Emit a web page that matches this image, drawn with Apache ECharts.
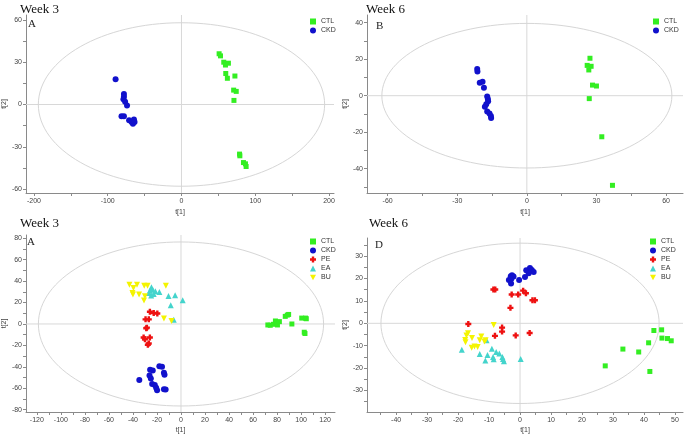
<!DOCTYPE html>
<html>
<head>
<meta charset="utf-8">
<title>PCA score plots</title>
<script src="https://cdn.jsdelivr.net/npm/echarts@6/dist/echarts.min.js"></script>
<style>
  html, body { margin: 0; padding: 0; background: #fff; }
  #chart { width: 685px; height: 435px; }
</style>
</head>
<body>
<div id="chart"></div>
<script>
// ---- data: score points [t1, t2] per group ----
// Week 3, CTL vs CKD (panel A top)
const w3CTL = [[51,36],[52.9,34.5],[57.3,30],[59.6,28],[63.6,29.3],[60,22],[62.2,18.6],[72.4,20.2],
  [70.7,10.2],[74.2,9.3],[71.1,2.9],[78.7,-35.2],[79.1,-36.4],[84,-41.2],[86.7,-42.1],[87.6,-44]]
const w3CKD = [[-89.3,17.9],[-78,7.4],[-78,5.5],[-78.7,3.8],[-76.4,1.9],[-73.8,-0.7],[-81.3,-8.3],[-78,-8.3],
  [-71,-11.2],[-67.6,-12.4],[-64.4,-10.7],[-65.8,-13.6],[-63.6,-12.4]]

// Week 6, CTL vs CKD (panel B)
const w6CTL = [[27.2,20.5],[26,16.6],[27.7,16.1],[26.7,14.1],[28.3,5.8],[30,5.3],[26.9,-1.6],[32.3,-22.5],[36.9,-49.1]]
const w6CKD = [[-21.4,14.6],[-21.3,13.2],[-20.3,7.1],[-19.1,7.7],[-18.5,4.4],[-17.1,-0.5],[-16.8,-1.8],[-16.7,-3.1],
  [-17.5,-4.7],[-18.1,-6],[-17.1,-8.6],[-16.1,-9.7],[-15.5,-11.1],[-15.4,-12.2]]

// Week 3, five groups (panel A bottom)
const w3gCTL = [[72.3,-0.9],[74.3,-1.2],[77,-0.3],[78.6,2.8],[80.3,-0.9],[81.9,2.2],[86.8,7.1],[88.5,8.3],[89.6,8.9],
  [92.3,0],[100.5,5.5],[103.7,5.5],[102.6,-7.7],[103.2,-8.9],[104.3,4.9]]
const w3gCKD = [[-34.7,-52.3],[-25.7,-42.8],[-23.5,-43.4],[-26.2,-48],[-25.1,-50.8],[-24,-56],[-21.8,-56.9],[-20.7,-59.4],
  [-19.9,-61.8],[-18,-39.4],[-15.8,-40],[-14.2,-45.5],[-13.7,-47.4],[-14.2,-60.9],[-12.8,-61.2]]
const w3gPE = [[-25.9,11.4],[-22.7,10.2],[-19.7,9.8],[-29.5,4.3],[-26.8,4.3],[-28.4,-3.4],[-28.9,-4],[-31.1,-12.6],
  [-30,-14.2],[-25.9,-12.6],[-26.8,-18.2],[-27.6,-19.4]]
const w3gEA = [[-24.6,34.2],[-25.9,31.1],[-23.5,32],[-26.8,28.9],[-22.7,28],[-24.8,26.5],[-21.3,30.5],[-18,29.8],
  [-10.4,26.2],[-4.9,26.8],[-8.5,17.5],[1.4,22.2],[-6,4]]
const w3gBU = [[-42.9,36.6],[-36.6,36.6],[-39.6,33.5],[-40.4,28.9],[-34.9,27.4],[-40,27.4],[-30.6,35.7],[-27.8,35.7],
  [-30,25.8],[-30.8,21.8],[-12.6,35.7],[-14.2,5.2],[-7.9,2.8]]

// Week 6, five groups (panel D)
const w6gCTL = [[27.5,-19],[33.2,-11.5],[38.3,-12.8],[41.5,-8.7],[41.9,-21.5],[43.2,-3.2],[45.7,-2.9],[45.8,-6.6],[47.6,-6.8],[48.8,-7.8]]
const w6gCKD = [[-3.6,19.4],[-3,21],[-2.6,21.5],[-2.1,20.9],[-2.8,19.9],[-2.9,17.8],[-0.3,19.3],[1.6,20.7],[2,23.7],
  [3.2,24.7],[3.8,23.8],[4.4,22.9],[2.8,22.4]]
const w6gPE = [[-8.6,15.1],[-8,15.1],[-2.7,12.9],[-0.6,12.9],[1,14.6],[1.9,13.4],[4,10.3],[4.8,10.3],[-3.1,6.9],
  [-16.7,-0.3],[-5.8,-1.9],[-5.8,-3.7],[-1.4,-5.4],[-8.1,-5.6],[3.1,-4.3]]
const w6gEA = [[-18.8,-11.8],[-13,-13.7],[-11.2,-16.6],[-10.5,-14.1],[-10.8,-7.6],[-9.1,-11.3],[-8.7,-15],[-8.5,-16],
  [-7.7,-12.8],[-6.7,-13.5],[-5.7,-15],[-5.5,-15.9],[-5.2,-16.9],[0.2,-15.9]]
const w6gBU = [[-8.5,-0.7],[-17.3,-5.4],[-16.8,-4.4],[-17.7,-7.4],[-17.6,-8.4],[-15.5,-6.5],[-15.6,-10.9],[-14.7,-10.3],
  [-13.7,-10.6],[-13,-7.6],[-12.5,-5.9],[-11.5,-8.1],[-11.1,-7.6]]

// Hotelling T2 ellipse half-axes [t1, t2] per panel
const ellipseRadii = [[194, 58], [62.5, 39.6], [118.7, 76.5], [44.9, 35.8]]

// axis ranges and tick labels per panel
const xRanges = [[-210.7, 206.7], [-68.9, 67.3], [-129, 128.2], [-49.4, 52.6]]
const yRanges = [[-62.8, 63.5], [-53.3, 44.2], [-82.1, 83], [-39.6, 38.1]]
const xLabels = [[-200, -100, 0, 100, 200], [-60, -30, 0, 30, 60],
  [-120, -100, -80, -60, -40, -20, 0, 20, 40, 60, 80, 100, 120], [-40, -30, -20, -10, 0, 10, 20, 30, 40, 50]]
const yLabels = [[-60, -30, 0, 30, 60], [-40, -20, 0, 20, 40],
  [-80, -60, -40, -20, 0, 20, 40, 60, 80], [-30, -20, -10, 0, 10, 20, 30]]
const xTickStep = [50, 15, 10, 5]
const yTickStep = [15, 10, 10, 5]

const weekTitles = ['Week 3', 'Week 6', 'Week 3', 'Week 6']
const panelLetters = ['A', 'B', 'A', 'D']

const COLORS = { CTL: '#33ee22', CKD: '#1111cc', PE: '#ee1111', EA: '#44d4cc', BU: '#f4f400' }
const SYMBOLS = {
  CTL: 'rect',
  CKD: 'circle',
  PE: 'path://M3,0h4v3h3v4h-3v3h-4v-3h-3v-4h3z',
  EA: 'triangle',
  BU: 'path://M0,0L10,0L5,9Z',
}
const SIZES = { CTL: 5, CKD: 6, PE: 6, EA: 6, BU: 6 }

// layout of the four grids (px)
const grids = [
  { left: 21, right: 351, top: 15, bottom: 242 },
  { left: 367, right: 2, top: 15, bottom: 242 },
  { left: 21, right: 350, top: 235, bottom: 21 },
  { left: 367, right: 2, top: 238, bottom: 21 },
]

function ticksFrom(range, step) {
  const out = []
  for (let v = Math.ceil(range[0] / step) * step; v <= range[1]; v += step) out.push(v)
  return out
}

const SANS = 'Liberation Sans, Arial, sans-serif'
const SERIF = 'Liberation Serif, Times New Roman, serif'
const labelStyle = { fontSize: 7, color: '#444', fontFamily: SANS, margin: 5 }
const axisLineStyle = { lineStyle: { color: '#8a8a8a', width: 1 } }

function makeX(i) {
  return {
    type: 'value', gridIndex: i, min: xRanges[i][0], max: xRanges[i][1],
    name: 't[1]', nameLocation: 'middle', nameGap: i < 2 ? 16 : 15,
    nameTextStyle: { fontSize: 7, color: '#444', fontFamily: SANS },
    axisLine: { show: true, onZero: false, ...axisLineStyle },
    axisTick: { show: true, length: 3, customValues: ticksFrom(xRanges[i], xTickStep[i]), ...axisLineStyle },
    axisLabel: { ...labelStyle, customValues: xLabels[i] },
    splitLine: { show: false },
  }
}

function makeY(i) {
  return {
    type: 'value', gridIndex: i, min: yRanges[i][0], max: yRanges[i][1],
    name: 't[2]', nameLocation: 'middle', nameGap: i % 2 === 0 ? 6 : 8, nameRotate: 90,
    nameTextStyle: { fontSize: 7, color: '#444', fontFamily: SANS },
    axisLine: { show: true, onZero: false, ...axisLineStyle },
    axisTick: { show: true, length: 3, customValues: ticksFrom(yRanges[i], yTickStep[i]), ...axisLineStyle },
    axisLabel: { ...labelStyle, margin: 4, customValues: yLabels[i] },
    splitLine: { show: false },
  }
}

function ellipseSeries(i) {
  return {
    type: 'custom', xAxisIndex: i, yAxisIndex: i, silent: true, z: 1,
    data: [ellipseRadii[i]],
    renderItem(params, api) {
      const c = api.coord([0, 0])
      const s = api.size([api.value(0), api.value(1)])
      const cs = params.coordSys
      const line = { stroke: '#d8d8d8', lineWidth: 1 }
      return {
        type: 'group',
        children: [
          { type: 'line', shape: { x1: cs.x, y1: c[1], x2: cs.x + cs.width, y2: c[1] }, style: line },
          { type: 'line', shape: { x1: c[0], y1: cs.y, x2: c[0], y2: cs.y + cs.height }, style: line },
          { type: 'ellipse', shape: { cx: c[0], cy: c[1], rx: s[0], ry: s[1] },
            style: { fill: 'none', stroke: '#d6d6d6', lineWidth: 1 } },
        ],
      }
    },
  }
}

function scatter(i, name, data) {
  return {
    type: 'scatter', name, xAxisIndex: i, yAxisIndex: i, data, z: 3,
    symbol: SYMBOLS[name], symbolSize: SIZES[name],
    itemStyle: { color: COLORS[name], opacity: 1 },
  }
}

const panelGroups = [
  [['CTL', w3CTL], ['CKD', w3CKD]],
  [['CTL', w6CTL], ['CKD', w6CKD]],
  [['CTL', w3gCTL], ['CKD', w3gCKD], ['PE', w3gPE], ['EA', w3gEA], ['BU', w3gBU]],
  [['CTL', w6gCTL], ['CKD', w6gCKD], ['PE', w6gPE], ['EA', w6gEA], ['BU', w6gBU]],
]

const series = []
panelGroups.forEach((groups, i) => {
  series.push(ellipseSeries(i))
  groups.forEach(([name, data]) => series.push(scatter(i, name, data)))
})

const legendPos = [[310, 18], [653, 18], [310, 238], [650, 238]]
const legends = panelGroups.map((groups, i) => ({
  orient: 'vertical', left: legendPos[i][0], top: legendPos[i][1], padding: 0,
  data: groups.map(g => g[0]),
  itemWidth: 6, itemHeight: 6, itemGap: 2,
  selectedMode: false,
  textStyle: { fontSize: 7, color: '#333', fontFamily: SANS },
}))

const titlePos = [[20, 3], [366, 3], [20, 217], [369, 217]]
const letterPos = [[28, 19], [376, 21], [27, 237], [375, 240]]
const titles = []
weekTitles.forEach((t, i) => {
  titles.push({ text: t, left: titlePos[i][0], top: titlePos[i][1], padding: 0,
    textStyle: { fontFamily: SERIF, fontSize: 13, fontWeight: 'normal', color: '#111', lineHeight: 13 } })
  titles.push({ text: panelLetters[i], left: letterPos[i][0], top: letterPos[i][1], padding: 0,
    textStyle: { fontFamily: SERIF, fontSize: 11, fontWeight: 'normal', color: '#222' } })
})

const chart = echarts.init(document.getElementById('chart'))
chart.setOption({
  animation: false,
  backgroundColor: '#fff',
  title: titles,
  legend: legends,
  grid: grids,
  xAxis: [0, 1, 2, 3].map(makeX),
  yAxis: [0, 1, 2, 3].map(makeY),
  series,
})
</script>
</body>
</html>
